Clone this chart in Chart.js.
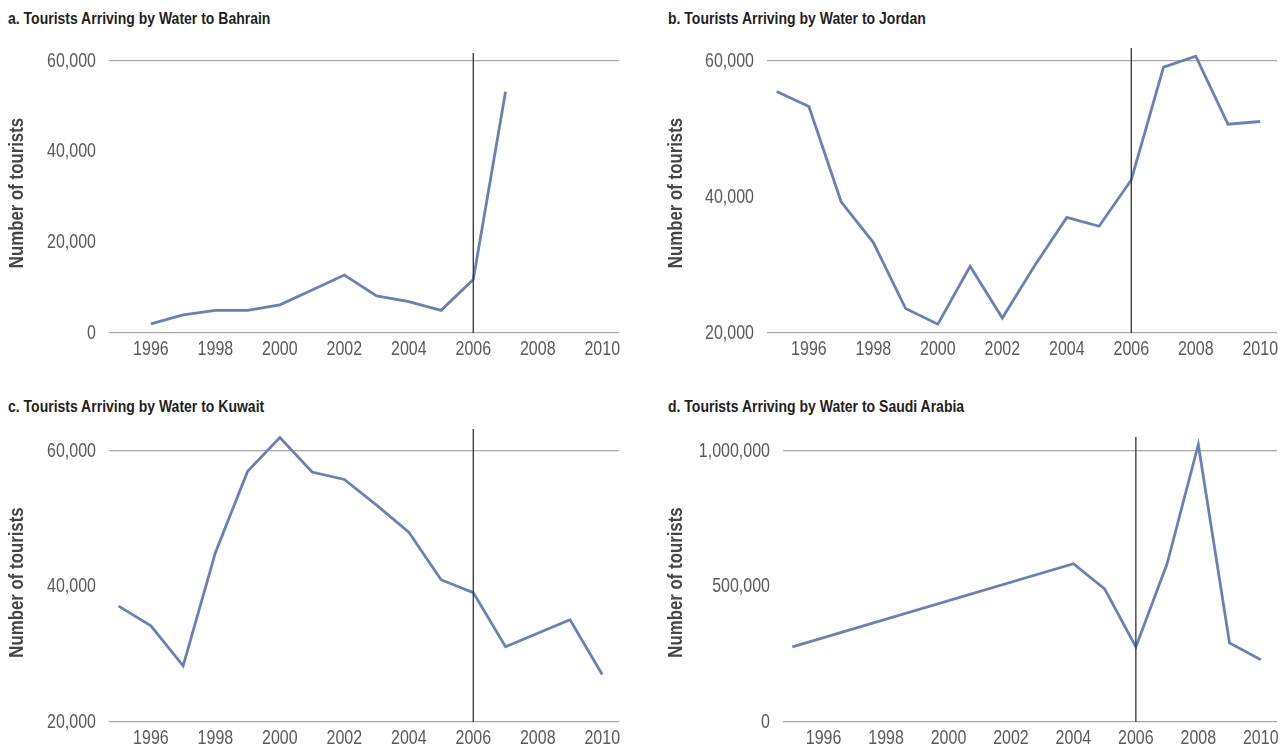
<!DOCTYPE html>
<html>
<head>
<meta charset="utf-8">
<script src="https://cdn.jsdelivr.net/npm/chart.js@4.4.1/dist/chart.umd.min.js"></script>
<style>
    body { margin: 0; background: #fff; }
    #wrap { position: relative; width: 1284px; height: 751px; overflow: hidden; }
    canvas { position: absolute; }
    .title {
        position: absolute;
        font-family: "Liberation Sans", Arial, sans-serif;
        font-weight: bold;
        font-size: 16px;
        line-height: 20px;
        color: #1f1f1f;
        white-space: nowrap;
        transform-origin: left center;
        transform: scaleX(0.875);
    }
</style>
</head>
<body>
<div id="wrap">
    <div class="title" style="left:8px; top:9px;">a. Tourists Arriving by Water to Bahrain</div>
    <div class="title" style="left:668px; top:9px;">b. Tourists Arriving by Water to Jordan</div>
    <div class="title" style="left:8px; top:397px;">c. Tourists Arriving by Water to Kuwait</div>
    <div class="title" style="left:668px; top:397px;">d. Tourists Arriving by Water to Saudi Arabia</div>
    <canvas id="chart-bahrain" width="642" height="375" style="left:0; top:0;"></canvas>
    <canvas id="chart-jordan" width="642" height="375" style="left:642px; top:0;"></canvas>
    <canvas id="chart-kuwait" width="642" height="376" style="left:0; top:375px;"></canvas>
    <canvas id="chart-saudi" width="642" height="376" style="left:642px; top:375px;"></canvas>
</div>
<script>
const years = [1995, 1996, 1997, 1998, 1999, 2000, 2001, 2002, 2003, 2004, 2005, 2006, 2007, 2008, 2009, 2010];
const yearTicks = [1996, 1998, 2000, 2002, 2004, 2006, 2008, 2010];

const bahrainTourists = [null, 2000, 4000, 5000, 5000, 6200, 9500, 12800, 8200, 6900, 5000, 11800, 53200, null, null, null];
const jordanTourists = [55500, 53300, 39300, 33300, 23600, 21300, 29800, 22200, 29900, 37000, 35700, 42500, 59100, 60700, 50700, 51100];
const kuwaitTourists = [37100, 34200, 28300, 45000, 57000, 62000, 56900, 55800, 52000, 48000, 41000, 39100, 31100, 33100, 35100, 27000];
const saudiTourists = [277000, null, null, null, null, null, null, null, null, 584000, 491000, 277000, 584000, 1024000, 292000, 230000];

const lineColor = "#6b80b6";
const gridColor = "#a9a9a9";
const tickColor = "#5a5a5a";
const fontFamily = "'Liberation Sans', Arial, sans-serif";

// no condensed font installed, so the labels are drawn squeezed horizontally
function squeezedText(ctx, text, x, y, align, sx, angle) {
    ctx.save();
    ctx.translate(x, y);
    if (angle) ctx.rotate(angle);
    ctx.scale(sx, 1);
    ctx.textAlign = align;
    ctx.textBaseline = "middle";
    ctx.fillText(text, 0, 0);
    ctx.restore();
}

const axisLabels = {
    id: "axisLabels",
    afterDraw(chart, args, opts) {
        const ctx = chart.ctx;
        const area = chart.chartArea;
        const xs = chart.scales.x;
        const ys = chart.scales.y;
        ctx.save();
        ctx.fillStyle = tickColor;
        ctx.font = "20px " + fontFamily;
        ys.ticks.forEach((t) => {
            squeezedText(ctx, t.value.toLocaleString("en-US"), area.left - 13, ys.getPixelForValue(t.value), "right", 0.8);
        });
        xs.ticks.forEach((t) => {
            squeezedText(ctx, String(t.value), xs.getPixelForValue(t.value), area.bottom + 16, "center", 0.8);
        });
        ctx.fillStyle = "#454545";
        ctx.font = "bold 21px " + fontFamily;
        squeezedText(ctx, "Number of tourists", opts.titleX, (area.top + area.bottom) / 2 - 4, "center", 0.8, -Math.PI / 2);
        ctx.restore();
    },
};

// vertical marker at 2006
const markerLine = {
    id: "markerLine",
    afterDatasetsDraw(chart, args, opts) {
        const x = chart.scales.x.getPixelForValue(opts.year);
        const ctx = chart.ctx;
        ctx.save();
        ctx.strokeStyle = "#333";
        ctx.lineWidth = 1.3;
        ctx.beginPath();
        ctx.moveTo(x, chart.chartArea.top - opts.extra);
        ctx.lineTo(x, chart.chartArea.bottom);
        ctx.stroke();
        ctx.restore();
    },
};

function makeChart(id, values, yMin, yMax, yStep, box) {
    const ctx = document.getElementById(id).getContext("2d");
    return new Chart(ctx, {
        type: "line",
        data: {
            datasets: [
                {
                    data: years.map((yr, i) => ({ x: yr, y: values[i] })),
                    borderColor: lineColor,
                    borderWidth: 2.8,
                    pointRadius: 0,
                    tension: 0,
                    spanGaps: box.spanGaps || false,
                    clip: false,
                },
            ],
        },
        options: {
            responsive: false,
            animation: false,
            layout: {
                padding: { top: box.padTop, right: box.padRight, bottom: 0, left: 0 },
            },
            plugins: {
                legend: { display: false },
                tooltip: { enabled: false },
                markerLine: { year: 2006, extra: box.vlineExtra },
                axisLabels: { titleX: box.titleX },
            },
            scales: {
                x: {
                    type: "linear",
                    min: 1994.7,
                    max: 2010.52,
                    afterBuildTicks: (scale) => {
                        scale.ticks = yearTicks.map((v) => ({ value: v }));
                    },
                    afterFit: (scale) => {
                        scale.height = box.xHeight;
                    },
                    grid: { display: false },
                    border: { display: false },
                    ticks: { display: false },
                },
                y: {
                    min: yMin,
                    max: yMax,
                    afterFit: (scale) => {
                        scale.width = box.yWidth;
                    },
                    grid: {
                        drawTicks: false,
                        lineWidth: 1.2,
                        color: (c) => (c.tick && (c.tick.value === yMin || c.tick.value === yMax) ? gridColor : "rgba(0,0,0,0)"),
                    },
                    border: { display: false },
                    ticks: { display: false, stepSize: yStep },
                },
            },
        },
        plugins: [markerLine, axisLabels],
    });
}

makeChart("chart-bahrain", bahrainTourists, 0, 60000, 20000,
    { padTop: 61, padRight: 23, yWidth: 109, xHeight: 42, titleX: 17, vlineExtra: 8 });
makeChart("chart-jordan", jordanTourists, 20000, 60000, 20000,
    { padTop: 61, padRight: 7, yWidth: 125, xHeight: 42, titleX: 34, vlineExtra: 13 });
makeChart("chart-kuwait", kuwaitTourists, 20000, 60000, 20000,
    { padTop: 76, padRight: 23, yWidth: 109, xHeight: 29, titleX: 17, vlineExtra: 22 });
makeChart("chart-saudi", saudiTourists, 0, 1000000, 500000,
    { padTop: 76, padRight: 7, yWidth: 141, xHeight: 29, titleX: 34, vlineExtra: 14, spanGaps: true });
</script>
</body>
</html>
